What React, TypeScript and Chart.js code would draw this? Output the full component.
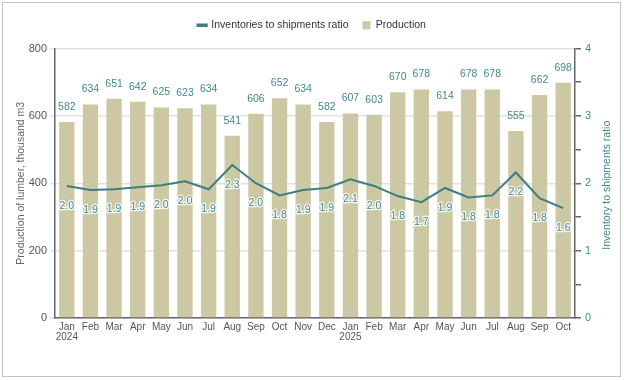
import React, { useEffect, useRef } from "react";
import { Chart, registerables } from "chart.js";

Chart.register(...registerables);

const months = ["Jan", "Feb", "Mar", "Apr", "May", "Jun", "Jul", "Aug", "Sep", "Oct", "Nov", "Dec", "Jan", "Feb", "Mar", "Apr", "May", "Jun", "Jul", "Aug", "Sep", "Oct"];
const years = ["2024", "", "", "", "", "", "", "", "", "", "", "", "2025", "", "", "", "", "", "", "", "", ""];
const production = [582, 634, 651, 642, 625, 623, 634, 541, 606, 652, 634, 582, 607, 603, 670, 678, 614, 678, 678, 555, 662, 698];
const ratio = [1.96, 1.9, 1.91, 1.94, 1.97, 2.03, 1.91, 2.27, 2.0, 1.82, 1.9, 1.93, 2.06, 1.96, 1.81, 1.72, 1.93, 1.79, 1.82, 2.16, 1.78, 1.63];
const leftTicks = [0, 200, 400, 600, 800];
const rightTicks = [0, 1, 2, 3, 4];
const rightTitle = "Inventory to shipments ratio";

const TEAL = "#3d7e82";
const LABEL_TEAL = "#418a8d";
const BAR = "#cdc8a4";
const FONT = "'Liberation Sans', Arial, sans-serif";

const labelPlugin = {
  id: "valueLabels",
  beforeLayout(chart: any) {
    const lg = chart.legend;
    if (lg && !lg.__patched) {
      lg.__patched = true;
      const origFit = lg.fit.bind(lg);
      lg.fit = function () {
        origFit();
        this.height += 8;
      };
    }
  },
  afterDatasetsDraw(chart: any) {
    const ctx = chart.ctx;
    ctx.save();
    ctx.font = `10.5px ${FONT}`;
    ctx.textAlign = "center";
    ctx.textBaseline = "middle";
    const barMeta = chart.getDatasetMeta(1);
    barMeta.data.forEach((el: any, i: number) => {
      ctx.fillStyle = LABEL_TEAL;
      ctx.fillText(String(production[i]), el.x, el.y - 15);
    });
    const lineMeta = chart.getDatasetMeta(0);
    lineMeta.data.forEach((el: any, i: number) => {
      const t = ratio[i].toFixed(1);
      ctx.lineWidth = 2.5;
      ctx.strokeStyle = "rgba(255,255,255,0.85)";
      ctx.lineJoin = "round";
      ctx.strokeText(t, el.x, el.y + 20);
      ctx.fillStyle = LABEL_TEAL;
      ctx.fillText(t, el.x, el.y + 20);
    });
    // right axis title, reading bottom to top
    const area = chart.chartArea;
    ctx.translate(607, (area.top + area.bottom) / 2 + 2);
    ctx.rotate(-Math.PI / 2);
    ctx.fillStyle = LABEL_TEAL;
    ctx.font = `10.5px ${FONT}`;
    ctx.fillText(rightTitle, 0, 0);
    ctx.restore();
  },
};

export default function App() {
  const ref = useRef<HTMLCanvasElement>(null);
  useEffect(() => {
    if (!ref.current) return;
    const chart = new Chart(ref.current, {
      type: "bar",
      data: {
        labels: months.map((m, i) => (years[i] ? [m, years[i]] : m)),
        datasets: [
          {
            type: "line",
            label: "Inventories to shipments ratio",
            data: ratio,
            borderColor: TEAL,
            backgroundColor: TEAL,
            borderWidth: 2,
            pointRadius: 0,
            tension: 0,
            yAxisID: "y1",
            pointStyle: "line",
          } as any,
          {
            type: "bar",
            label: "Production",
            data: production,
            backgroundColor: BAR,
            borderWidth: 0,
            barPercentage: 0.65,
            categoryPercentage: 1,
            yAxisID: "y",
            pointStyle: "rect",
          } as any,
        ],
      },
      options: {
        animation: false,
        responsive: false,
        maintainAspectRatio: false,
        layout: { padding: { top: 6, left: 0, right: 0, bottom: 0 } },
        plugins: {
          legend: {
            position: "top",
            labels: {
              usePointStyle: true,
              boxWidth: 8,
              boxHeight: 8,
              padding: 14,
              color: "#333",
              font: { family: FONT, size: 10.5 },
              generateLabels(chart: any) {
                const items = Chart.defaults.plugins.legend.labels.generateLabels(chart);
                items.forEach((it: any) => {
                  if (it.datasetIndex === 0) it.lineWidth = 3.5;
                });
                return items;
              },
            },
          },
          tooltip: { enabled: false },
        },
        scales: {
          x: {
            grid: { display: false, drawTicks: false },
            border: { display: true, color: "#666", width: 1.5 },
            ticks: {
              color: "#555",
              font: { family: FONT, size: 10, lineHeight: 1.0 },
              maxRotation: 0,
              autoSkip: false,
              padding: 4,
            },
            afterFit(scale: any) {
              scale.height = 62;
            },
          },
          y: {
            position: "left",
            min: 0,
            max: 800,
            afterBuildTicks(scale: any) {
              scale.ticks = leftTicks.map((v) => ({ value: v }));
            },
            grid: { color: "#e2e2e2", lineWidth: 1.5, drawTicks: true, tickLength: 5 },
            border: { display: true, color: "#666", width: 1.5 },
            ticks: { color: "#555", font: { family: FONT, size: 11 }, padding: 3 },
            title: {
              display: true,
              text: "Production of lumber, thousand m3",
              color: "#666",
              font: { family: FONT, size: 10.5 },
              padding: { top: 15, bottom: 0 },
            },
            afterFit(scale: any) {
              scale.width = 55;
            },
          },
          y1: {
            position: "right",
            min: 0,
            max: 4,
            ticks: {
              stepSize: 0.5,
              color: LABEL_TEAL,
              font: { family: FONT, size: 11 },
              padding: 4,
              callback: (v: any) => (rightTicks.includes(Number(v)) ? String(v) : ""),
            },
            grid: { drawOnChartArea: false, drawTicks: true, tickLength: 6, color: "#666", lineWidth: 1.5 },
            border: { display: true, color: "#666", width: 1.5 },
            title: { display: false },
            afterFit(scale: any) {
              scale.width = 49;
            },
          },
        },
      },
      plugins: [labelPlugin],
    } as any);
    return () => chart.destroy();
  }, []);

  return (
    <div style={{ position: "fixed", left: 0, top: 0, width: 624, height: 380, background: "#fff" }}>
      <canvas ref={ref} width={624} height={380} style={{ display: "block", width: 624, height: 380 }} />
      <div
        style={{
          position: "absolute",
          left: 2,
          top: 2,
          width: 617,
          height: 373,
          border: "1.5px solid #c4c4c4",
          pointerEvents: "none",
        }}
      />
    </div>
  );
}
